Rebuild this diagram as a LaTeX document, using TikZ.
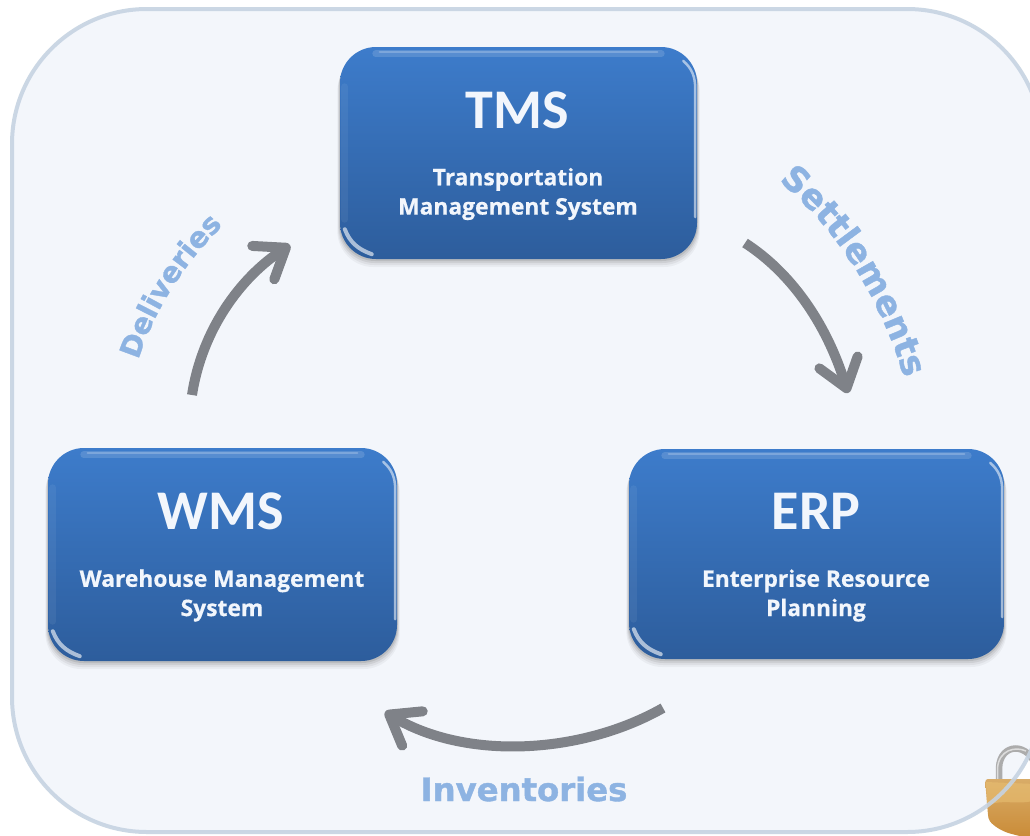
\documentclass[tikz,border=0pt]{standalone}
\usepackage{fontspec}
\usetikzlibrary{arrows.meta,decorations.text,calc,fadings}
\setmainfont{Carlito}
\newfontfamily\subfont[BoldFeatures={FakeBold=0.6}]{Open Sans}
\newfontfamily\labfont[BoldFeatures={FakeBold=1.2}]{DejaVu Sans}
\definecolor{panelfill}{HTML}{F3F6FB}
\definecolor{panelline}{HTML}{C6D3E2}
\definecolor{boxtop}{HTML}{3D7CCB}
\definecolor{boxbot}{HTML}{2D5D9C}
\definecolor{labelblue}{HTML}{8DB3E2}
\definecolor{arrowgrey}{HTML}{7F8288}
\definecolor{boxtext}{HTML}{F2F6FC}
\definecolor{locktop}{HTML}{D9AC68}
\definecolor{lockbot}{HTML}{C98A35}
\definecolor{lockband}{HTML}{E8BE72}
\tikzset{
  x=1pt,y=-1pt,
  glossbox/.style={draw=none,rounded corners=36pt,top color=boxtop,bottom color=boxbot,inner sep=0pt},
  titletext/.style={text=boxtext,font=\fontsize{56}{56}\selectfont\bfseries,inner sep=0pt},
  subtext/.style={text=boxtext,font=\fontsize{22.8}{29.3}\subfont\bfseries,align=center,inner sep=0pt},
  flowarrow/.style={draw=arrowgrey,line width=10pt,-{Straight Barb[length=27pt,width=40pt,line width=10pt,round]}},
  curvetext/.style 2 args={decorate,decoration={text along path,text align=center,text color=labelblue,text={|\fontsize{#1}{#1}\labfont\bfseries|#2}}},
  softshine/.style={draw=white,opacity=.14,line width=7pt,line cap=round},
  shine/.style={draw=white,opacity=.22,line width=2.5pt,line cap=round},
  glint/.style={draw=white,opacity=.6,line width=4pt,line cap=round},
}
\newcommand{\glossyshape}[5]{% name, x0, y0, x1, y1
  \foreach \s/\o in {8/.04,6/.05,4/.07,2/.09}{
    \fill[black,opacity=\o,rounded corners=36pt] (#2-\s/3,#3+\s) rectangle (#4+\s/3,#5+\s);
  }
  \node[glossbox,minimum width=#4-#2,minimum height=#5-#3] (#1) at ({(#2+#4)/2},{(#3+#5)/2}) {};
  \draw[softshine] ($(#1.north west)+(36,7)$) -- ($(#1.north east)+(-36,7)$);
  \draw[shine] ($(#1.north west)+(40,5)$) -- ($(#1.north east)+(-40,5)$);
  \draw[shine,opacity=.55] ($(#1.north east)+(-14,14)$) .. controls ($(#1.north east)+(-5,22)$) and ($(#1.north east)+(-2,30)$) .. ($(#1.north east)+(-2,42)$) -- ($(#1.south east)+(-2,-42)$);
  \draw[softshine,opacity=.06] ($(#1.north west)+(5,40)$) -- ($(#1.south west)+(5,-40)$);
  \draw[glint] ($(#1.south west)+(5,-30)$) .. controls ($(#1.south west)+(10,-17)$) and ($(#1.south west)+(18,-10)$) .. ($(#1.south west)+(32,-5)$);
}
\begin{document}
\begin{tikzpicture}
\useasboundingbox (0,0) rectangle (1030,835);
\begin{scope}
\clip (0,0) rectangle (1030,835);
\fill[white] (0,0) rectangle (1030,835);
\fill[panelfill,rounded corners=135pt] (12,9) rectangle (1042,832);
% padlock
\draw[line width=6.5pt,draw=gray!65] (999,782) -- (999,768) .. controls (1000,742) and (1030,742) .. (1036,768);
\draw[line width=1.5pt,draw=white,opacity=.6] (997.5,780) -- (997.5,768) .. controls (999,750) and (1015,746) .. (1026,751);
\shade[top color=locktop,bottom color=lockbot,rounded corners=3pt]
  (985,779) -- (1035,779) -- (1035,840) -- (1008,833) .. controls (996,828) and (989,822) .. (988,815) -- cycle;
\fill[lockband,opacity=.6] (986,782) -- (1035,784) -- (1035,800) .. controls (1020,806) and (1000,798) .. (987,806) -- cycle;
\draw[panelline,line width=4pt,opacity=.9,rounded corners=135pt] (12,9) rectangle (1042,832);
\end{scope}

\glossyshape{tms}{340}{47}{697}{259}
\glossyshape{wms}{48}{448}{397}{661}
\glossyshape{erp}{629}{449}{1004}{659}

\node[titletext] (tmst) at (517,110) {TMS};
\node[subtext] (tmss) at (518,194) {Transportation\\Management System};
\node[titletext] (wmst) at (221,511) {WMS};
\node[subtext] (wmss) at (222,595.5) {Warehouse Management\\System};
\node[titletext] (erpt) at (816,511) {ERP};
\node[subtext] (erps) at (816,595.5) {Enterprise Resource\\Planning};

\coordinate (a1s) at (745,243);
\coordinate (a1e) at (848,393);
\coordinate (a2s) at (663,708);
\coordinate (a2e) at (385,712);
\coordinate (a3s) at (192,395);
\coordinate (a3e) at (290,245);
\draw[flowarrow] (a1s) .. controls (790,272) and (826,322) .. (a1e);
\draw[flowarrow] (a2s) .. controls (580,755) and (465,760) .. (a2e);
\draw[flowarrow] (a3s) .. controls (202,330) and (240,278) .. (a3e);

\coordinate (l1s) at (735,150);
\coordinate (l1e) at (917,430);
\coordinate (l3s) at (128,400);
\coordinate (l3e) at (254,198);
\path[curvetext={34.5}{Settlements}] (l1s) .. controls (828,205) and (893,305) .. (l1e);
\path[curvetext={28.5}{Deliveries}] (l3s) .. controls (143,320) and (188,250) .. (l3e);
\node[text=labelblue,font=\fontsize{32.3}{32}\labfont\bfseries,inner sep=0pt] (invl) at (524,789) {Inventories};
\end{tikzpicture}
\end{document}
